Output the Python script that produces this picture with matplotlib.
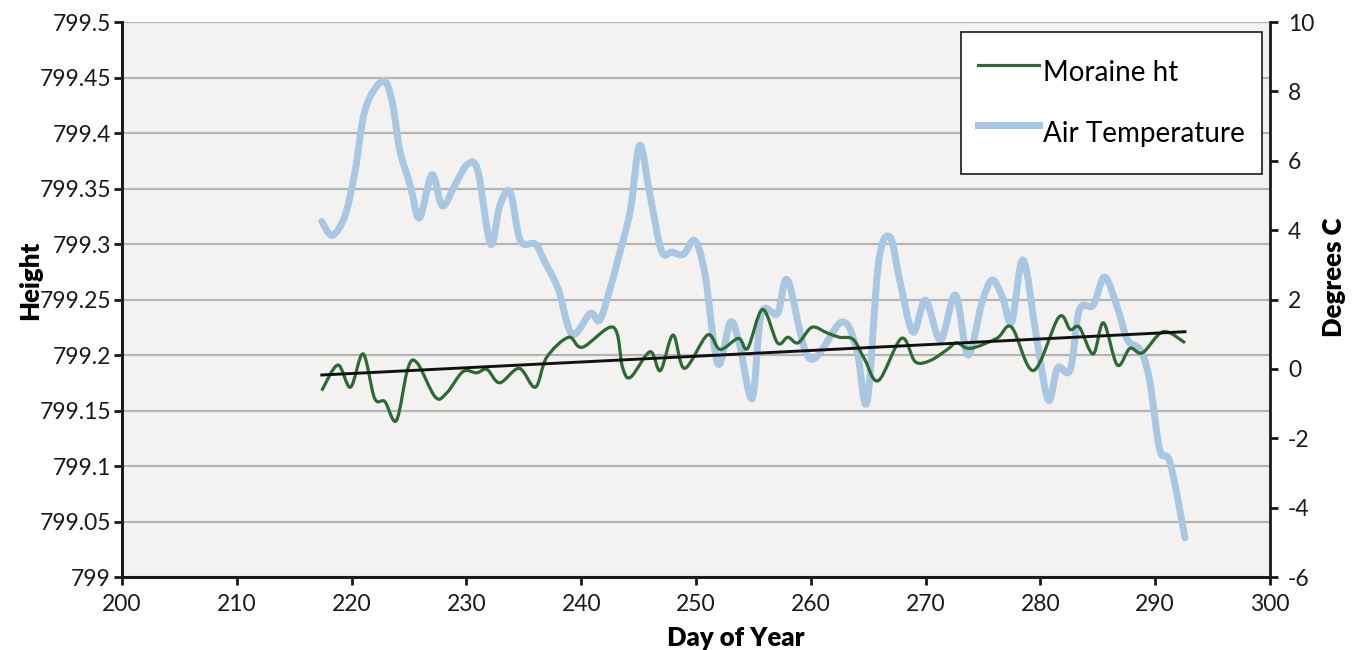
import numpy as np
import matplotlib
matplotlib.use("Agg")
import matplotlib.pyplot as plt
from matplotlib.path import Path
from matplotlib.patches import PathPatch
from matplotlib.lines import Line2D

plt.rcParams['font.family'] = ['Lato', 'DejaVu Sans']
plt.rcParams['axes.unicode_minus'] = False

# values
temp_days = [217.4, 218.3, 219.4, 220.3, 221.2, 222.7, 223.5, 224.2, 225.1, 225.9,
             227.0, 227.9, 229.0, 230.1, 231.0, 232.1, 232.9, 233.8, 234.7, 236.0,
             236.8, 238.0, 239.2, 240.8, 241.6, 242.5, 243.4, 244.3, 245.1, 246.0,
             247.0, 247.9, 248.9, 249.9, 250.8, 251.9, 253.0, 253.8, 254.9, 255.7,
             257.1, 258.0, 259.9, 262.7, 264.0, 264.9, 265.9, 266.9, 267.8, 268.9,
             270.0, 271.3, 272.6, 273.7, 274.9, 275.8, 276.7, 277.5, 278.5, 279.7,
             280.7, 281.5, 282.6, 283.4, 284.6, 285.6, 286.7, 287.6, 288.7, 289.5,
             290.4, 291.3, 292.6]
air_temp = [4.25, 3.85, 4.4, 5.7, 7.5, 8.3, 7.75, 6.3, 5.3, 4.35,
            5.6, 4.7, 5.3, 5.9, 5.7, 3.6, 4.7, 5.1, 3.7, 3.6,
            3.1, 2.3, 1.0, 1.6, 1.4, 2.3, 3.4, 4.6, 6.45, 5.0,
            3.4, 3.37, 3.3, 3.7, 2.7, 0.15, 1.35, 0.7, -0.85, 1.6,
            1.6, 2.55, 0.3, 1.35, 0.55, -0.95, 3.05, 3.8, 2.47, 1.06,
            1.98, 0.83, 2.13, 0.4, 1.9, 2.56, 2.07, 1.35, 3.14, 0.83,
            -0.9, 0.03, -0.03, 1.7, 1.84, 2.65, 1.78, 0.83, 0.55, -0.3,
            -2.33, -2.7, -4.87]

moraine_days = [217.4, 218.8, 219.9, 221.0, 222.0, 222.9, 223.9, 224.9, 225.7, 227.3,
                228.3, 229.7, 230.9, 231.8, 232.9, 234.6, 236.0, 237.0, 238.9, 240.1,
                242.8, 243.6, 244.3, 246.0, 246.9, 248.0, 249.0, 251.0, 252.1, 253.7,
                254.5, 255.8, 257.1, 258.0, 258.9, 260.1, 261.4, 262.5, 263.7, 264.7,
                265.9, 267.9, 269.1, 270.4, 271.9, 272.7, 273.9, 276.2, 277.5, 279.4,
                281.6, 282.6, 283.4, 284.6, 285.5, 286.7, 287.8, 288.9, 290.7, 292.6]
moraine_ht = [799.168, 799.191, 799.171, 799.201, 799.161, 799.158, 799.141, 799.188, 799.193, 799.162,
              799.166, 799.185, 799.184, 799.187, 799.175, 799.188, 799.171, 799.198, 799.216, 799.207,
              799.225, 799.189, 799.180, 799.203, 799.186, 799.218, 799.188, 799.218, 799.205, 799.215,
              799.206, 799.241, 799.211, 799.216, 799.211, 799.225, 799.220, 799.216, 799.214, 799.196,
              799.177, 799.215, 799.194, 799.195, 799.205, 799.211, 799.206, 799.215, 799.225, 799.186,
              799.234, 799.223, 799.225, 799.201, 799.229, 799.191, 799.206, 799.202, 799.221, 799.211]

trend_days = [217.4, 292.6]
trend_ht = [799.182, 799.221]

height_ticks = np.arange(799, 799.5001, 0.05)
temp_ticks = np.arange(-6, 11, 2)
day_ticks = np.arange(200, 301, 10)


def smooth_path(x, y):
    # Excel-style smoothed line as cubic Bezier segments
    pts = np.column_stack([x, y])
    n = len(pts)
    verts = [pts[0]]
    codes = [Path.MOVETO]
    for i in range(n - 1):
        p0 = pts[max(i - 1, 0)]
        p1 = pts[i]
        p2 = pts[i + 1]
        p3 = pts[min(i + 2, n - 1)]
        verts += [p1 + (p2 - p0) / 6, p2 - (p3 - p1) / 6, p2]
        codes += [Path.CURVE4] * 3
    return Path(verts, codes)


blue = '#a7c7e3'
green = '#2b6a33'

fig = plt.figure(figsize=(13.53, 6.5), dpi=100)
ax1 = fig.add_axes([0.0902, 0.1123, 0.8484, 0.8538])
ax2 = ax1.twinx()

ax1.set_facecolor('#f3f2f0')
ax1.set_xlim(200, 300)
ax1.set_ylim(799, 799.5)
ax2.set_ylim(-6, 10)

ax1.set_axisbelow(True)
ax1.yaxis.grid(True, color='#b4b4b4', linewidth=1.6)

# temperature drawn inside ax1 (so it sits under the green line) using ax2's scale
ax1.add_patch(PathPatch(smooth_path(temp_days, air_temp), transform=ax2.transData,
                        facecolor='none', edgecolor=blue, lw=5.0, capstyle='round',
                        joinstyle='round', zorder=2))
ax1.add_patch(PathPatch(smooth_path(moraine_days, moraine_ht), facecolor='none',
                        edgecolor=green, lw=2.3, joinstyle='round', zorder=3))
ax1.plot(trend_days, trend_ht, color='#111111', lw=2.1, zorder=4)

ax1.set_xticks(day_ticks)
ax1.set_yticks(height_ticks)
ax1.set_yticklabels(['{:g}'.format(round(v, 2)) for v in height_ticks])
ax2.set_yticks(temp_ticks)
ax2.set_yticklabels([str(v) for v in temp_ticks])

for ax in (ax1, ax2):
    ax.spines['top'].set_visible(False)
    for s in ax.spines.values():
        s.set_linewidth(2.0)
        s.set_color('#1a1a1a')
    ax.tick_params(direction='out', length=6, width=2, labelsize=16.5, colors='#1a1a1a')
ax1.spines['right'].set_visible(False)
ax1.tick_params(axis='y', pad=2)
ax1.tick_params(axis='x', pad=6)
ax2.tick_params(axis='y', pad=7)

ax1.set_xlabel('Day of Year', fontsize=18.5, fontweight='heavy')
ax1.set_ylabel('Height', fontsize=18.5, fontweight='heavy')
ax2.set_ylabel('Degrees C', fontsize=18.5, fontweight='heavy')
ax1.xaxis.set_label_coords(0.535, -0.088)
ax1.yaxis.set_label_coords(-0.07, 0.535)
ax2.yaxis.set_label_coords(1.045, 0.54)

handles = [Line2D([], [], color=green, lw=2.3), Line2D([], [], color=blue, lw=5.0)]
leg = ax1.legend(handles, ['Moraine ht', 'Air Temperature'], loc='upper right',
                 bbox_to_anchor=(0.993, 0.982), fontsize=20, frameon=True,
                 fancybox=False, edgecolor='#1a1a1a', framealpha=1,
                 handlelength=2.2, handleheight=2.3, labelspacing=0.43,
                 borderpad=0.6, handletextpad=0.15, borderaxespad=0)
leg.get_frame().set_linewidth(1.2)
leg.set_zorder(10)

fig.savefig('out.png', dpi=100, facecolor='white')
